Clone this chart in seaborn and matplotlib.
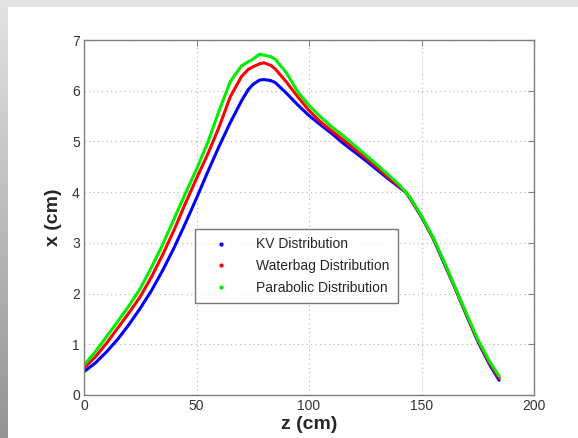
import numpy as np
import pandas as pd
import matplotlib
matplotlib.use("Agg")
import matplotlib.pyplot as plt
from matplotlib.lines import Line2D
from matplotlib.patches import Rectangle
import seaborn as sns

# ---- data ----
z_cm = [0, 5, 10, 15, 20, 25, 30, 35, 40, 45, 50, 55, 60, 65, 70, 73, 75, 78, 80, 83,
        85, 90, 95, 100, 105, 110, 115, 120, 125, 130, 135, 140, 143, 145, 150, 155,
        160, 165, 170, 175, 180, 184.5]
kv = [0.46, 0.63, 0.85, 1.10, 1.39, 1.71, 2.06, 2.46, 2.90, 3.38, 3.88, 4.40, 4.90, 5.37,
      5.80, 6.02, 6.12, 6.21, 6.22, 6.20, 6.16, 5.95, 5.72, 5.51, 5.33, 5.16, 4.97, 4.80,
      4.63, 4.45, 4.27, 4.10, 4.00, 3.87, 3.51, 3.10, 2.60, 2.10, 1.57, 1.06, 0.62, 0.29]
waterbag = [0.53, 0.75, 1.02, 1.32, 1.62, 1.94, 2.33, 2.77, 3.25, 3.77, 4.27, 4.75, 5.28,
            5.88, 6.28, 6.42, 6.47, 6.53, 6.55, 6.50, 6.43, 6.17, 5.88, 5.61, 5.39, 5.21,
            5.04, 4.86, 4.68, 4.50, 4.30, 4.12, 4.00, 3.88, 3.52, 3.11, 2.62, 2.11, 1.58,
            1.08, 0.65, 0.33]
parabolic = [0.59, 0.85, 1.15, 1.45, 1.76, 2.10, 2.52, 2.97, 3.47, 3.97, 4.45, 4.98, 5.60,
             6.18, 6.49, 6.57, 6.62, 6.72, 6.70, 6.67, 6.62, 6.35, 5.98, 5.71, 5.49, 5.29,
             5.12, 4.93, 4.74, 4.55, 4.35, 4.15, 4.00, 3.89, 3.53, 3.12, 2.63, 2.12, 1.60,
             1.10, 0.68, 0.37]
labels = ["KV Distribution", "Waterbag Distribution", "Parabolic Distribution"]
colors = ["#0000ff", "#ff0000", "#00ee00"]
x_ticks = [0, 50, 100, 150, 200]
y_ticks = [0, 1, 2, 3, 4, 5, 6, 7]

df = pd.concat([
    pd.DataFrame({"z": z_cm, "x": v, "dist": lab})
    for v, lab in zip([kv, waterbag, parabolic], labels)
], ignore_index=True)

sns.set_style("white")
plt.rcParams["font.family"] = ["Liberation Sans", "DejaVu Sans"]

W, H = 578, 438
fig = plt.figure(figsize=(W / 100, H / 100), dpi=100, facecolor="white")

# background frame: light top band + left gradient strip
bg = fig.add_axes([0, 0, 1, 1], zorder=-10)
bg.axis("off")
bg.add_patch(Rectangle((0, 0), W, 7, color="#e3e3e3", lw=0))
grad = np.linspace(0.89, 0.58, 256).reshape(-1, 1)
bg.imshow(np.dstack([grad, grad, grad]), extent=[0, 8, H, 0], aspect="auto")
bg.set_xlim(0, W)
bg.set_ylim(H, 0)

ax = fig.add_axes([84 / W, (H - 395) / H, (534 - 84) / W, (395 - 40) / H])
sns.lineplot(data=df, x="z", y="x", hue="dist", palette=colors, hue_order=labels,
             sort=False, estimator=None, linewidth=2.2, ax=ax, legend=False)
for ln in ax.get_lines():
    ln.set_solid_joinstyle("round")
    ln.set_solid_capstyle("round")

ax.set_xlim(0, 200)
ax.set_ylim(0, 7)
ax.set_xticks(x_ticks)
ax.set_yticks(y_ticks)
ax.grid(True, linestyle=(0, (1, 3)), color="#b0b0b0", linewidth=0.8)
for s in ax.spines.values():
    s.set_color("#808080")
    s.set_linewidth(1.0)
ax.tick_params(direction="in", length=4, color="#808080", top=True, right=True,
               labelsize=10, labelcolor="#333333", pad=3)
ax.set_xlabel("z (cm)", fontsize=14, fontweight="bold", labelpad=2)
ax.set_ylabel("x (cm)", fontsize=14, fontweight="bold", labelpad=7)

handles = [Line2D([], [], linestyle="none", marker="o", markersize=2,
                  color=c) for c in colors]
leg = ax.legend(handles, labels, loc="lower left", bbox_to_anchor=(0.247, 0.259),
                borderaxespad=0, fontsize=10, frameon=True, fancybox=False,
                handlelength=2.5, handletextpad=1.3, borderpad=0.6, labelspacing=0.55)
leg.get_frame().set_edgecolor("#555555")
leg.get_frame().set_linewidth(1.0)

fig.savefig("out.png", dpi=100, facecolor="white")
